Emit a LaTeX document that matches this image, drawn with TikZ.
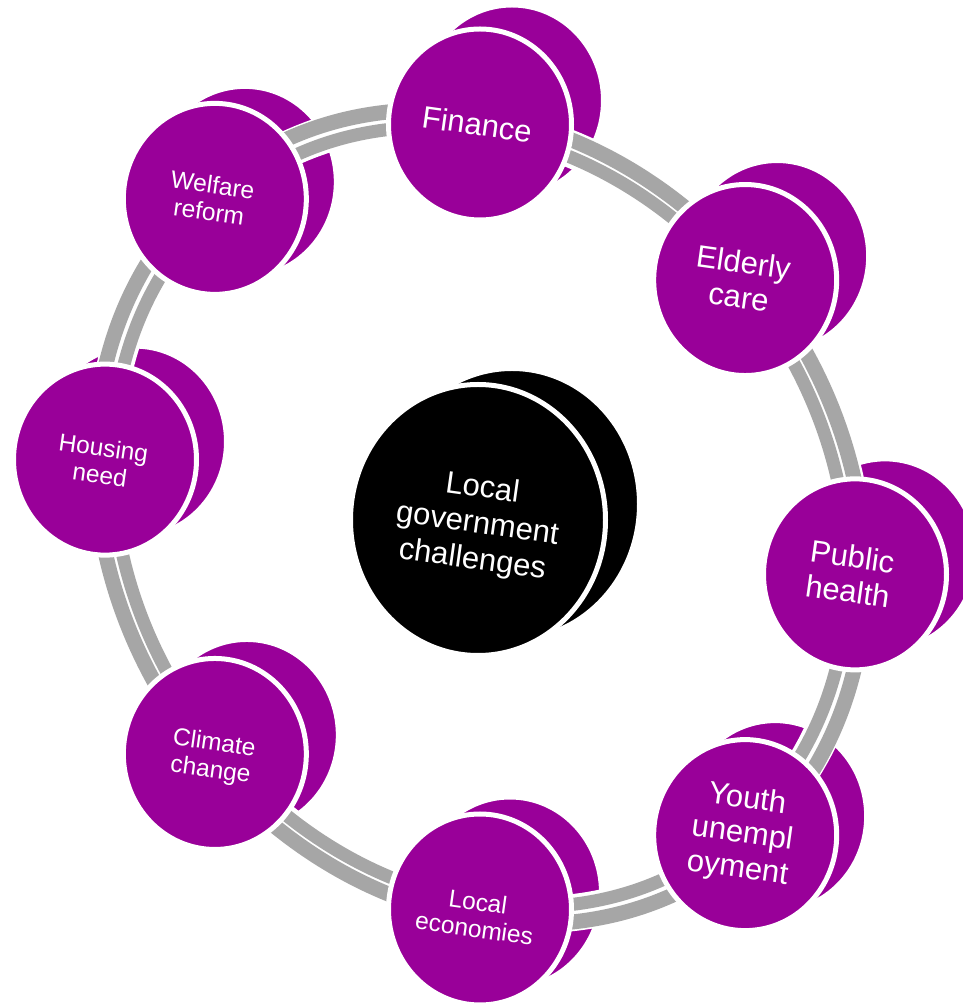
\documentclass[tikz,border=0pt]{standalone}
\usepackage{fontspec}
\setmainfont{Liberation Sans}
\usetikzlibrary{shapes.geometric}
\definecolor{purp}{RGB}{153,0,153}
\definecolor{ringgray}{RGB}{166,166,166}
\begin{document}
\begin{tikzpicture}[x=1pt,y=1pt,
  backdisc/.style={ellipse, fill=purp, draw=white, line width=5pt,
    minimum width=183pt, minimum height=191pt, inner sep=0pt},
  frontdisc/.style={backdisc},
  hubdisc/.style={ellipse, fill=black, draw=white, line width=5pt,
    minimum width=255pt, minimum height=271pt, inner sep=0pt},
  bigtxt/.style={text=white, align=center, rotate=-8, inner sep=0pt,
    font=\fontsize{31}{35}\selectfont},
  smalltxt/.style={text=white, align=center, rotate=-8, inner sep=0pt,
    font=\fontsize{24.5}{27}\selectfont},
]
\useasboundingbox (0,0) rectangle (963,1005);
\fill[white] (0,0) rectangle (963,1005);
\clip (0,0) rectangle (963,1005);

% positions on the (sheared) ring
\begin{scope}[cm={1,-0.153,0,1,(480,488)}]
  \coordinate (pfin) at (90:375pt and 392.5pt);
  \coordinate (peld) at (45:375pt and 392.5pt);
  \coordinate (ppub) at (0:375pt and 392.5pt);
  \coordinate (pyou) at (-45:375pt and 392.5pt);
  \coordinate (ploc) at (-90:375pt and 392.5pt);
  \coordinate (pcli) at (-135:375pt and 392.5pt);
  \coordinate (phou) at (180:375pt and 392.5pt);
  \coordinate (pwel) at (135:375pt and 392.5pt);
\end{scope}

% back faces
\node[backdisc, xshift=32pt, yshift=24pt] (finb) at (pfin) {};
\node[backdisc, xshift=32pt, yshift=24pt] (eldb) at (peld) {};
\node[backdisc, xshift=30pt, yshift=20pt] (pubb) at (ppub) {};
\node[backdisc, xshift=30pt, yshift=19pt] (youb) at (pyou) {};
\node[backdisc, xshift=30pt, yshift=17pt] (locb) at (ploc) {};
\node[backdisc, xshift=32pt, yshift=19pt] (clib) at (pcli) {};
\node[backdisc, xshift=30pt, yshift=18pt] (houb) at (phou) {};
\node[backdisc, xshift=30pt, yshift=17pt] (welb) at (pwel) {};

% ring
\begin{scope}[cm={1,-0.153,0,1,(480,488)}]
  \draw[white, line width=37pt] (0,0) ellipse [x radius=376pt, y radius=393.5pt];
  \draw[ringgray, line width=15pt] (0,0) ellipse [x radius=385pt, y radius=402.5pt];
  \draw[ringgray, line width=13pt] (0,0) ellipse [x radius=368pt, y radius=385.5pt];
\end{scope}

% front faces
\node[frontdisc] (fin) at (pfin) {};
\node[frontdisc] (eld) at (peld) {};
\node[frontdisc] (pub) at (ppub) {};
\node[frontdisc] (you) at (pyou) {};
\node[frontdisc] (loc) at (ploc) {};
\node[frontdisc] (cli) at (pcli) {};
\node[frontdisc] (hou) at (phou) {};
\node[frontdisc] (wel) at (pwel) {};

% labels
\node[bigtxt, xshift=-3pt] (fint) at (fin) {Finance};
\node[bigtxt, xshift=-4pt] (eldt) at (eld) {Elderly\\care};
\node[bigtxt, xshift=-5pt] (pubt) at (pub) {Public\\health};
\node[bigtxt, xshift=-3pt] (yout) at (you) {Youth\\unempl\\oyment};
\node[smalltxt, xshift=-3pt, yshift=-6pt] (loct) at (loc) {Local\\economies};
\node[smalltxt, xshift=-2pt, yshift=-4pt] (clit) at (cli) {Climate\\change};
\node[smalltxt, xshift=-3pt, yshift=-2pt] (hout) at (hou) {Housing\\need};
\node[smalltxt, xshift=-4pt] (welt) at (wel) {Welfare\\reform};

% central hub
\node[hubdisc] (hubb) at (512,501) {};
\node[hubdisc] (hub) at (478,485) {};
\node[bigtxt, yshift=-5pt, font=\fontsize{31}{36}\selectfont] (hubt) at (hub) {Local\\government\\challenges};
\end{tikzpicture}
\end{document}
